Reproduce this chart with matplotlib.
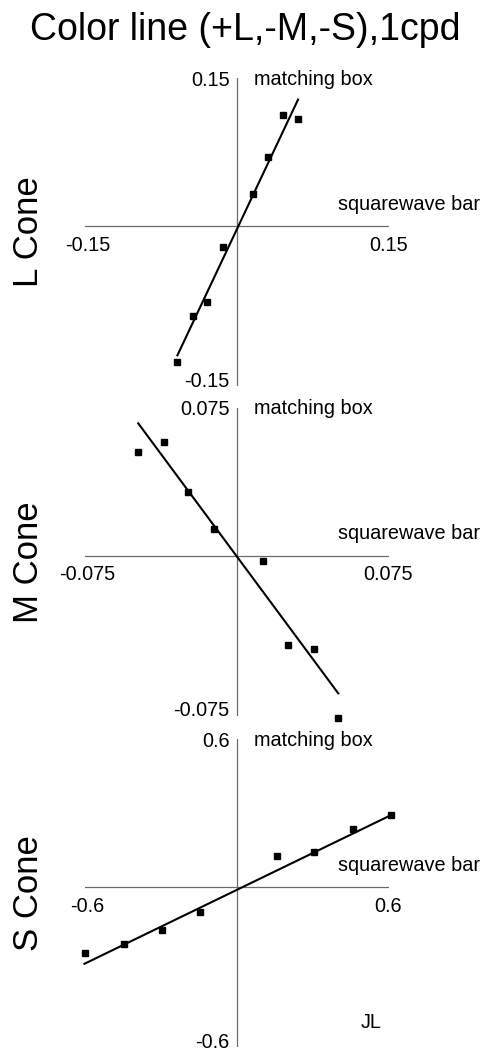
import matplotlib
matplotlib.use("Agg")
import matplotlib.pyplot as plt

plt.rcParams['font.family'] = ['Liberation Sans', 'DejaVu Sans']

W, H, DPI = 488, 1057, 100

title = "Color line (+L,-M,-S),1cpd"
cone_names = ["L Cone", "M Cone", "S Cone"]
axis_ranges = [0.15, 0.075, 0.6]
tick_text = [("-0.15", "0.15"), ("-0.075", "0.075"), ("-0.6", "0.6")]
y_axis_name = "matching box"
x_axis_name = "squarewave bar"
observer = "JL"

# squarewave bar contrast (x) vs matched box contrast (y), per cone class
l_x = [-0.0583, -0.0430, -0.0288, -0.0131, 0.0167, 0.0315, 0.0462, 0.0607]
l_y = [-0.1341, -0.0888, -0.0750, -0.0210, 0.0312, 0.0682, 0.1092, 0.1059]

m_x = [-0.0485, -0.0360, -0.0237, -0.0113, 0.0132, 0.0255, 0.0380, 0.0502]
m_y = [0.0512, 0.0561, 0.0314, 0.0133, -0.0026, -0.0441, -0.0460, -0.0801]

s_x = [-0.600, -0.446, -0.296, -0.146, 0.158, 0.307, 0.461, 0.611]
s_y = [-0.262, -0.226, -0.170, -0.0987, 0.122, 0.138, 0.228, 0.284]

fit_slope = [2.12, -1.35, 0.485]
fit_intercept = [-0.004, 0.0, -0.012]

panels = [(l_x, l_y), (m_x, m_y), (s_x, s_y)]

# layout (pixels): horizontal span of each panel, and y position of its zero line
AX_LEFT, AX_WIDTH = 84.5, 304.0
ZERO_ROWS = [226.0, 556.0, 887.0]
ABOVE, BELOW = 148.0, 160.0

AXIS_GRAY = "#6b6b6b"
FS_SMALL = 14.3

fig = plt.figure(figsize=(W / DPI, H / DPI), dpi=DPI)
fig.text(245 / W, 1 - 30 / H, title, ha="center", va="center", fontsize=27)

for i, ((xs, ys), rng, (lo_txt, hi_txt), name) in enumerate(
        zip(panels, axis_ranges, tick_text, cone_names)):
    zero_row = ZERO_ROWS[i]
    top_px = zero_row - ABOVE
    height_px = ABOVE + BELOW
    ax = fig.add_axes([AX_LEFT / W, 1 - (top_px + height_px) / H,
                       AX_WIDTH / W, height_px / H])
    ax.set_axis_off()
    scale = AX_WIDTH / (2 * rng)
    y_top, y_bot = ABOVE / scale, -BELOW / scale
    ax.set_xlim(-rng, rng)
    ax.set_ylim(y_bot, y_top)

    ax.axhline(0, color=AXIS_GRAY, lw=0.9)
    ax.axvline(0, color=AXIS_GRAY, lw=0.9)

    x0, x1 = min(xs), max(xs)
    ax.plot([x0, x1],
            [fit_slope[i] * x0 + fit_intercept[i], fit_slope[i] * x1 + fit_intercept[i]],
            color="black", lw=1.5, clip_on=False)
    ax.plot(xs, ys, linestyle="none", marker="s", markersize=4.3,
            color="black", clip_on=False)

    kw = dict(textcoords="offset pixels", fontsize=FS_SMALL, annotation_clip=False)
    ax.annotate(hi_txt, xy=(0, y_top), xytext=(-7, -2), ha="right", va="center", **kw)
    ax.annotate(lo_txt, xy=(0, y_bot), xytext=(-7, 5), ha="right", va="center", **kw)
    ax.annotate(lo_txt, xy=(-rng, 0), xytext=(3, -19), ha="center", va="center", **kw)
    ax.annotate(hi_txt, xy=(rng, 0), xytext=(0, -19), ha="center", va="center", **kw)
    ax.annotate(y_axis_name, xy=(0, y_top), xytext=(18, -1), ha="left", va="center", **kw)
    ax.annotate(x_axis_name, xy=(0, 0), xytext=(101, 22), ha="left", va="center", **kw)

    fig.text(28 / W, 1 - (zero_row + 6) / H, name, rotation=90,
             ha="center", va="center", fontsize=25)

fig.text(371 / W, 1 - 1022 / H, observer, ha="center", va="center", fontsize=FS_SMALL)

fig.savefig("out.png", dpi=DPI)
